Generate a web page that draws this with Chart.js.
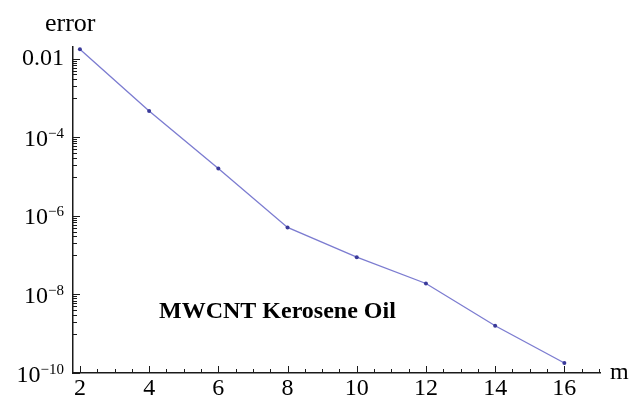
<!DOCTYPE html>
<html>
<head>
<meta charset="utf-8">
<script src="https://cdn.jsdelivr.net/npm/chart.js@4/dist/chart.umd.min.js"></script>
<style>
  html, body { margin: 0; padding: 0; background: #fff; }
  #chart { display: block; }
</style>
</head>
<body>
<canvas id="chart" width="629" height="398" style="width:629px;height:398px"></canvas>
<script>
// values
var mValues = [2, 4, 6, 8, 10, 12, 14, 16];
var errorValues = [0.0175, 4.7e-4, 1.6e-5, 5.1e-7, 8.9e-8, 1.9e-8, 1.6e-9, 1.8e-10];

var xTicks = [2, 4, 6, 8, 10, 12, 14, 16];
var xMinorTicks = [2.5, 3, 3.5, 4.5, 5, 5.5, 6.5, 7, 7.5, 8.5, 9, 9.5, 10.5, 11, 11.5, 12.5, 13, 13.5, 14.5, 15, 15.5, 16.5, 17];
var yTicks = [0.01, 1e-4, 1e-6, 1e-8, 1e-10];
// label = base + superscript exponent
var yTickBase = ['0.01', '10', '10', '10', '10'];
var yTickExp = ['', '\u22124', '\u22126', '\u22128', '\u221210'];
var yMinorDecades = [1e-3, 1e-5, 1e-7, 1e-9];
var yMinorSteps = [1, 2, 3, 4, 5, 6, 7, 8, 9];

var serif = 'Liberation Serif';
var lineColor = 'rgba(100, 100, 200, 0.85)';
var pointColor = '#3a3a9a';
var axisColor = '#1a1a1a';

// tick marks point inward, like the original plot
var innerTicks = {
  id: 'innerTicks',
  afterDraw: function(chart) {
    var ctx = chart.ctx;
    var x = chart.scales.x, y = chart.scales.y;
    var area = chart.chartArea;
    ctx.save();
    ctx.strokeStyle = axisColor;
    ctx.lineWidth = 1;
    ctx.beginPath();
    xTicks.concat(xMinorTicks).forEach(function(v) {
      var px = Math.round(x.getPixelForValue(v)) + 0.5;
      var len = xTicks.indexOf(v) >= 0 ? 7 : 4;
      ctx.moveTo(px, area.bottom);
      ctx.lineTo(px, area.bottom - len);
    });
    yTicks.forEach(function(v) {
      var py = Math.round(y.getPixelForValue(v)) + 0.5;
      ctx.moveTo(area.left, py);
      ctx.lineTo(area.left + 7, py);
    });
    yMinorDecades.forEach(function(d) {
      yMinorSteps.forEach(function(k) {
        var py = Math.round(y.getPixelForValue(d * k)) + 0.5;
        ctx.moveTo(area.left, py);
        ctx.lineTo(area.left + 4, py);
      });
    });
    ctx.stroke();

    ctx.fillStyle = '#000';
    ctx.textBaseline = 'alphabetic';

    // y tick labels with real superscripts
    var right = area.left - 9;
    yTicks.forEach(function(v, i) {
      var py = y.getPixelForValue(v);
      if (!yTickExp[i]) {
        ctx.font = '24px "' + serif + '"';
        ctx.textAlign = 'right';
        ctx.fillText(yTickBase[i], right, py + 6);
        return;
      }
      ctx.font = '15px "' + serif + '"';
      var ew = ctx.measureText(yTickExp[i]).width;
      ctx.textAlign = 'left';
      ctx.fillText(yTickExp[i], right - ew, py + 0.5);
      ctx.font = '24px "' + serif + '"';
      ctx.textAlign = 'right';
      ctx.fillText(yTickBase[i], right - ew, py + 8.5);
    });

    ctx.textAlign = 'left';
    ctx.font = '26px "' + serif + '"';
    ctx.fillText('error', 45, 31);
    ctx.font = '24px "' + serif + '"';
    ctx.fillText('m', 610, 379);
    ctx.font = 'bold 24px "' + serif + '"';
    ctx.fillText('MWCNT Kerosene Oil', 159, 318);
    ctx.restore();
  }
};

new Chart(document.getElementById('chart'), {
  type: 'line',
  data: {
    datasets: [{
      data: mValues.map(function(m, i) { return { x: m, y: errorValues[i] }; }),
      borderColor: lineColor,
      borderWidth: 1.3,
      pointRadius: 2,
      pointBackgroundColor: pointColor,
      pointBorderWidth: 0,
      tension: 0,
      clip: false
    }]
  },
  options: {
    responsive: false,
    animation: false,
    devicePixelRatio: 1,
    layout: { padding: { top: 47, right: 29, left: 0, bottom: 0 } },
    plugins: { legend: { display: false }, tooltip: { enabled: false } },
    scales: {
      x: {
        type: 'linear',
        min: 1.8,
        max: 17.03,
        grid: { display: false, drawTicks: false },
        border: { display: true, color: axisColor, width: 1.5 },
        ticks: {
          color: '#000',
          font: { family: serif, size: 24 },
          padding: 1,
          maxRotation: 0,
          autoSkip: false
        },
        afterBuildTicks: function(s) { s.ticks = xTicks.map(function(v) { return { value: v }; }); },
        afterFit: function(s) { s.height = 25; }
      },
      y: {
        type: 'logarithmic',
        min: 1e-10,
        max: 0.02,
        grid: { display: false, drawTicks: false },
        border: { display: true, color: axisColor, width: 1.5 },
        ticks: { display: false },
        afterBuildTicks: function(s) { s.ticks = yTicks.map(function(v) { return { value: v }; }); },
        afterFit: function(s) { s.width = 73; }
      }
    }
  },
  plugins: [innerTicks]
});
</script>
</body>
</html>
